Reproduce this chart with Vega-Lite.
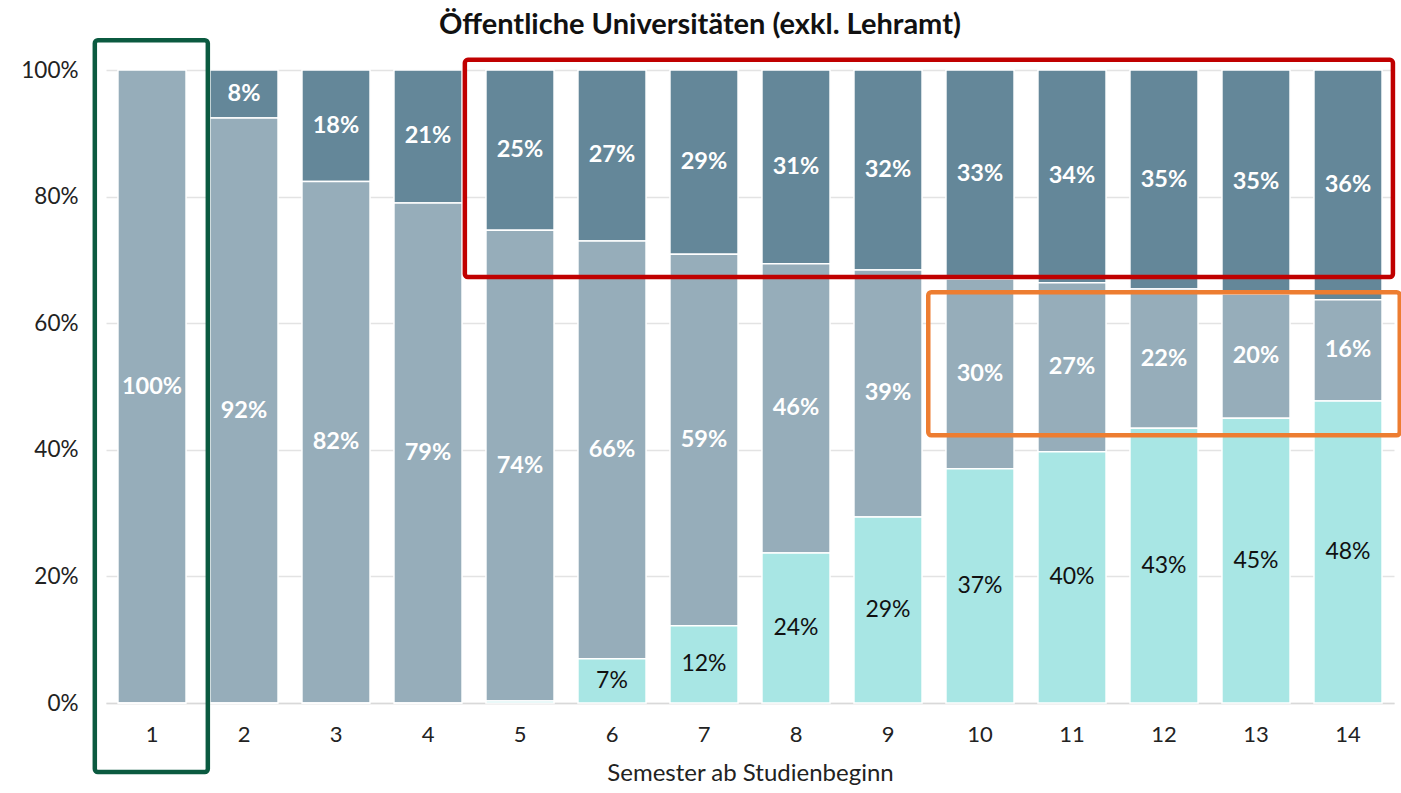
{
  "$schema": "https://vega.github.io/schema/vega-lite/v6.json",
  "width": 1288,
  "height": 633,
  "autosize": {"type": "none"},
  "padding": {"left": 106, "top": 70, "right": 7, "bottom": 90},
  "background": "white",
  "title": {
    "text": "Öffentliche Universitäten (exkl. Lehramt)",
    "font": "Lato",
    "fontSize": 29,
    "fontWeight": "bold",
    "color": "#111111",
    "anchor": "middle",
    "dx": -50,
    "offset": -2
  },
  "config": {
    "view": {"stroke": null},
    "axis": {"labelFont": "Lato", "titleFont": "Lato", "labelColor": "#222222", "titleColor": "#222222"}
  },
  "datasets": {
    "bars": [
      {"sem": 1, "cat": "Abbruch", "rank": 3, "value": 0},
      {"sem": 1, "cat": "Studierend", "rank": 2, "value": 1.0},
      {"sem": 1, "cat": "Abschluss", "rank": 1, "value": 0},
      {"sem": 2, "cat": "Abbruch", "rank": 3, "value": 0.076},
      {"sem": 2, "cat": "Studierend", "rank": 2, "value": 0.924},
      {"sem": 2, "cat": "Abschluss", "rank": 1, "value": 0},
      {"sem": 3, "cat": "Abbruch", "rank": 3, "value": 0.176},
      {"sem": 3, "cat": "Studierend", "rank": 2, "value": 0.824},
      {"sem": 3, "cat": "Abschluss", "rank": 1, "value": 0},
      {"sem": 4, "cat": "Abbruch", "rank": 3, "value": 0.21},
      {"sem": 4, "cat": "Studierend", "rank": 2, "value": 0.79},
      {"sem": 4, "cat": "Abschluss", "rank": 1, "value": 0},
      {"sem": 5, "cat": "Abbruch", "rank": 3, "value": 0.253},
      {"sem": 5, "cat": "Studierend", "rank": 2, "value": 0.744},
      {"sem": 5, "cat": "Abschluss", "rank": 1, "value": 0.003},
      {"sem": 6, "cat": "Abbruch", "rank": 3, "value": 0.27},
      {"sem": 6, "cat": "Studierend", "rank": 2, "value": 0.66},
      {"sem": 6, "cat": "Abschluss", "rank": 1, "value": 0.07},
      {"sem": 7, "cat": "Abbruch", "rank": 3, "value": 0.291},
      {"sem": 7, "cat": "Studierend", "rank": 2, "value": 0.587},
      {"sem": 7, "cat": "Abschluss", "rank": 1, "value": 0.122},
      {"sem": 8, "cat": "Abbruch", "rank": 3, "value": 0.306},
      {"sem": 8, "cat": "Studierend", "rank": 2, "value": 0.457},
      {"sem": 8, "cat": "Abschluss", "rank": 1, "value": 0.237},
      {"sem": 9, "cat": "Abbruch", "rank": 3, "value": 0.316},
      {"sem": 9, "cat": "Studierend", "rank": 2, "value": 0.39},
      {"sem": 9, "cat": "Abschluss", "rank": 1, "value": 0.294},
      {"sem": 10, "cat": "Abbruch", "rank": 3, "value": 0.33},
      {"sem": 10, "cat": "Studierend", "rank": 2, "value": 0.30},
      {"sem": 10, "cat": "Abschluss", "rank": 1, "value": 0.37},
      {"sem": 11, "cat": "Abbruch", "rank": 3, "value": 0.336},
      {"sem": 11, "cat": "Studierend", "rank": 2, "value": 0.267},
      {"sem": 11, "cat": "Abschluss", "rank": 1, "value": 0.397},
      {"sem": 12, "cat": "Abbruch", "rank": 3, "value": 0.346},
      {"sem": 12, "cat": "Studierend", "rank": 2, "value": 0.22},
      {"sem": 12, "cat": "Abschluss", "rank": 1, "value": 0.434},
      {"sem": 13, "cat": "Abbruch", "rank": 3, "value": 0.354},
      {"sem": 13, "cat": "Studierend", "rank": 2, "value": 0.196},
      {"sem": 13, "cat": "Abschluss", "rank": 1, "value": 0.45},
      {"sem": 14, "cat": "Abbruch", "rank": 3, "value": 0.363},
      {"sem": 14, "cat": "Studierend", "rank": 2, "value": 0.16},
      {"sem": 14, "cat": "Abschluss", "rank": 1, "value": 0.477}
    ],
    "boxes": [
      {"name": "green", "start": 1, "end": 1, "top": 1.047, "bottom": -0.109},
      {"name": "red", "start": 5, "end": 14, "top": 1.016, "bottom": 0.673},
      {"name": "orange", "start": 10, "end": 14, "top": 0.649, "bottom": 0.423}
    ]
  },
  "layer": [
    {
      "data": {"name": "bars"},
      "mark": {"type": "bar", "stroke": "white", "strokeWidth": 1.5},
      "encoding": {
        "x": {
          "field": "sem", "type": "ordinal",
          "scale": {"paddingInner": 0.26, "paddingOuter": 0.13},
          "axis": {
            "title": "Semester ab Studienbeginn",
            "titleFontSize": 24, "titleFontWeight": "normal", "titlePadding": 16,
            "labelFontSize": 22, "labelAngle": 0, "labelPadding": 21,
            "ticks": false, "domainColor": "#d9d9d9", "domainWidth": 1.5
          }
        },
        "y": {
          "field": "value", "type": "quantitative", "stack": "zero",
          "scale": {"domain": [0, 1], "nice": false},
          "axis": {
            "title": null, "format": ".0%", "values": [0, 0.2, 0.4, 0.6, 0.8, 1],
            "labelFontSize": 22.5, "labelPadding": 28, "ticks": false, "domain": false,
            "gridColor": "#e3e3e3", "gridWidth": 1.5
          }
        },
        "color": {
          "field": "cat", "type": "nominal", "legend": null,
          "scale": {"domain": ["Abbruch", "Studierend", "Abschluss"], "range": ["#648799", "#96adba", "#a8e6e4"]}
        },
        "order": {"field": "rank", "type": "quantitative"}
      }
    },
    {
      "data": {"name": "bars"},
      "transform": [
        {"stack": "value", "groupby": ["sem"], "sort": [{"field": "rank", "order": "ascending"}], "as": ["y0", "y1"]},
        {"calculate": "(datum.y0 + datum.y1) / 2", "as": "mid"},
        {"filter": "datum.value >= 0.03 && datum.cat !== 'Abschluss'"}
      ],
      "mark": {"type": "text", "font": "Lato", "fontSize": 23.5, "fontWeight": "bold", "color": "white", "baseline": "middle"},
      "encoding": {
        "x": {"field": "sem", "type": "ordinal"},
        "y": {"field": "mid", "type": "quantitative"},
        "text": {"field": "value", "type": "quantitative", "format": ".0%"}
      }
    },
    {
      "data": {"name": "bars"},
      "transform": [
        {"stack": "value", "groupby": ["sem"], "sort": [{"field": "rank", "order": "ascending"}], "as": ["y0", "y1"]},
        {"calculate": "(datum.y0 + datum.y1) / 2", "as": "mid"},
        {"filter": "datum.value >= 0.03 && datum.cat === 'Abschluss'"}
      ],
      "mark": {"type": "text", "font": "Lato", "fontSize": 23, "fontWeight": "normal", "color": "#111111", "baseline": "middle"},
      "encoding": {
        "x": {"field": "sem", "type": "ordinal"},
        "y": {"field": "mid", "type": "quantitative"},
        "text": {"field": "value", "type": "quantitative", "format": ".0%"}
      }
    },
    {
      "data": {"name": "boxes"},
      "transform": [{"filter": "datum.name === 'green'"}],
      "mark": {"type": "rect", "fill": null, "filled": false, "stroke": "#0b5a40", "strokeWidth": 4.5, "cornerRadius": 3, "clip": false},
      "encoding": {
        "x": {"field": "start", "type": "ordinal", "bandPosition": -0.34},
        "x2": {"field": "end", "bandPosition": 1.32},
        "y": {"field": "top", "type": "quantitative"},
        "y2": {"field": "bottom"}
      }
    },
    {
      "data": {"name": "boxes"},
      "transform": [{"filter": "datum.name === 'red'"}],
      "mark": {"type": "rect", "fill": null, "filled": false, "stroke": "#c00000", "strokeWidth": 4.5, "cornerRadius": 3, "clip": false},
      "encoding": {
        "x": {"field": "start", "type": "ordinal", "bandPosition": -0.31},
        "x2": {"field": "end", "bandPosition": 1.16},
        "y": {"field": "top", "type": "quantitative"},
        "y2": {"field": "bottom"}
      }
    },
    {
      "data": {"name": "boxes"},
      "transform": [{"filter": "datum.name === 'orange'"}],
      "mark": {"type": "rect", "fill": null, "filled": false, "stroke": "#ed7d31", "strokeWidth": 4.5, "cornerRadius": 3, "clip": false},
      "encoding": {
        "x": {"field": "start", "type": "ordinal", "bandPosition": -0.26},
        "x2": {"field": "end", "bandPosition": 1.26},
        "y": {"field": "top", "type": "quantitative"},
        "y2": {"field": "bottom"}
      }
    }
  ]
}
